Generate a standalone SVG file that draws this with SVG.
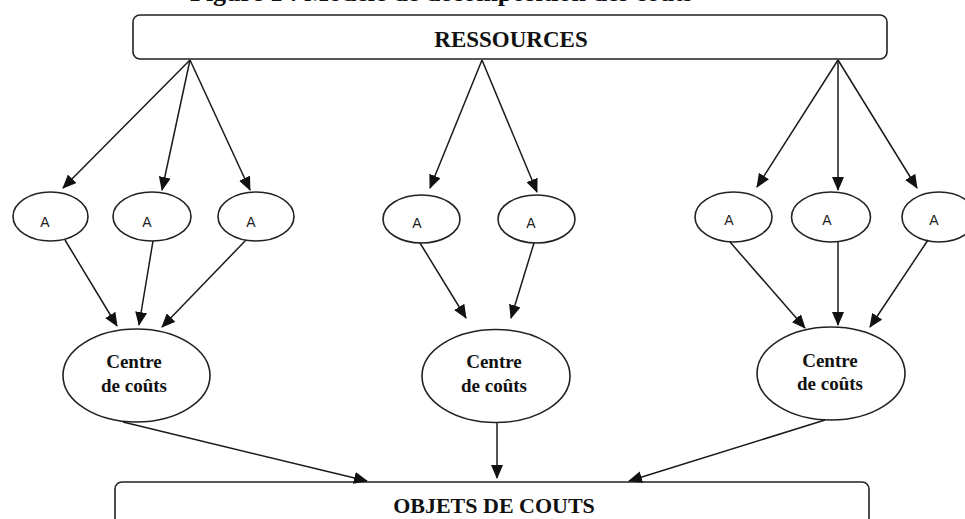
<svg xmlns="http://www.w3.org/2000/svg" width="965" height="519" viewBox="0 0 965 519">
<style>
.box{fill:#fff;stroke:#222;stroke-width:1.6}
.ell{fill:#fff;stroke:#222;stroke-width:1.6}
.big{font-family:"Liberation Serif","Times New Roman",serif;font-weight:bold;fill:#111}
.a{font-family:"Liberation Sans",Arial,sans-serif;font-size:14px;fill:#222;text-anchor:middle}
.cc{font-family:"Liberation Serif","Times New Roman",serif;font-weight:bold;font-size:19px;fill:#111;text-anchor:middle}
.con line{stroke:#1a1a1a;stroke-width:1.5;marker-end:url(#arr)}
</style>
<defs>
<marker id="arr" markerUnits="userSpaceOnUse" markerWidth="14" markerHeight="12" viewBox="0 0 14 12" refX="13" refY="6" orient="auto">
<path d="M0,0 L14,6 L0,12 Z" fill="#111"/>
</marker>
</defs>
<rect width="965" height="519" fill="#fff"/>
<text class="big" x="190" y="0.5" font-size="26">Figure 1 : Modèle de décomposition des coûts</text>

<g id="ressources">
<rect class="box" x="133" y="15" width="754" height="44" rx="7"/>
<text class="big" x="511" y="47" font-size="23" text-anchor="middle">RESSOURCES</text>
</g>

<g id="a1"><ellipse class="ell" cx="50.5" cy="216.5" rx="37.5" ry="24.5"/><text class="a" x="45" y="227">A</text></g>
<g id="a2"><ellipse class="ell" cx="152" cy="216.5" rx="39" ry="24.5"/><text class="a" x="147" y="227">A</text></g>
<g id="a3"><ellipse class="ell" cx="256" cy="216.5" rx="38" ry="24.5"/><text class="a" x="251" y="227">A</text></g>
<g id="a4"><ellipse class="ell" cx="421.5" cy="219" rx="38.5" ry="24"/><text class="a" x="417" y="228">A</text></g>
<g id="a5"><ellipse class="ell" cx="536.5" cy="219" rx="38.5" ry="24"/><text class="a" x="531" y="228">A</text></g>
<g id="a6"><ellipse class="ell" cx="733.5" cy="217" rx="38.5" ry="25"/><text class="a" x="729" y="225">A</text></g>
<g id="a7"><ellipse class="ell" cx="831" cy="217" rx="39.5" ry="25"/><text class="a" x="827" y="225">A</text></g>
<g id="a8"><ellipse class="ell" cx="939" cy="217" rx="37" ry="25"/><text class="a" x="934" y="225">A</text></g>

<g id="centre1"><ellipse class="ell" cx="136.5" cy="375.5" rx="73.5" ry="46.5"/><text class="cc" x="134" y="368">Centre</text><text class="cc" x="134" y="392">de coûts</text></g>
<g id="centre2"><ellipse class="ell" cx="496" cy="376" rx="74" ry="46.5"/><text class="cc" x="494" y="368">Centre</text><text class="cc" x="494" y="392">de coûts</text></g>
<g id="centre3"><ellipse class="ell" cx="831" cy="373.5" rx="74" ry="46.5"/><text class="cc" x="830" y="367">Centre</text><text class="cc" x="830" y="390">de coûts</text></g>

<g id="objets">
<rect class="box" x="115" y="482" width="754" height="60" rx="7"/>
<text class="big" x="494" y="513" font-size="22" text-anchor="middle">OBJETS DE COUTS</text>
</g>

<g id="connectors" class="con">
<line x1="190" y1="60" x2="63" y2="188"/>
<line x1="190" y1="60" x2="162" y2="190"/>
<line x1="190" y1="60" x2="250" y2="190"/>
<line x1="482" y1="60" x2="430" y2="188"/>
<line x1="482" y1="60" x2="537" y2="192"/>
<line x1="838" y1="60" x2="757" y2="187"/>
<line x1="838" y1="60" x2="838" y2="190"/>
<line x1="838" y1="60" x2="917" y2="188"/>
<line x1="65" y1="240" x2="117" y2="326"/>
<line x1="153" y1="241" x2="139" y2="325"/>
<line x1="246" y1="240" x2="162" y2="327"/>
<line x1="420" y1="243" x2="466" y2="318"/>
<line x1="534" y1="243" x2="511" y2="318"/>
<line x1="730" y1="242" x2="805" y2="328"/>
<line x1="838" y1="242" x2="838" y2="325"/>
<line x1="928" y1="240" x2="870" y2="327"/>
<line x1="123" y1="422" x2="367" y2="481"/>
<line x1="497" y1="423" x2="497" y2="478"/>
<line x1="825" y1="420" x2="629" y2="481"/>
</g>
</svg>
